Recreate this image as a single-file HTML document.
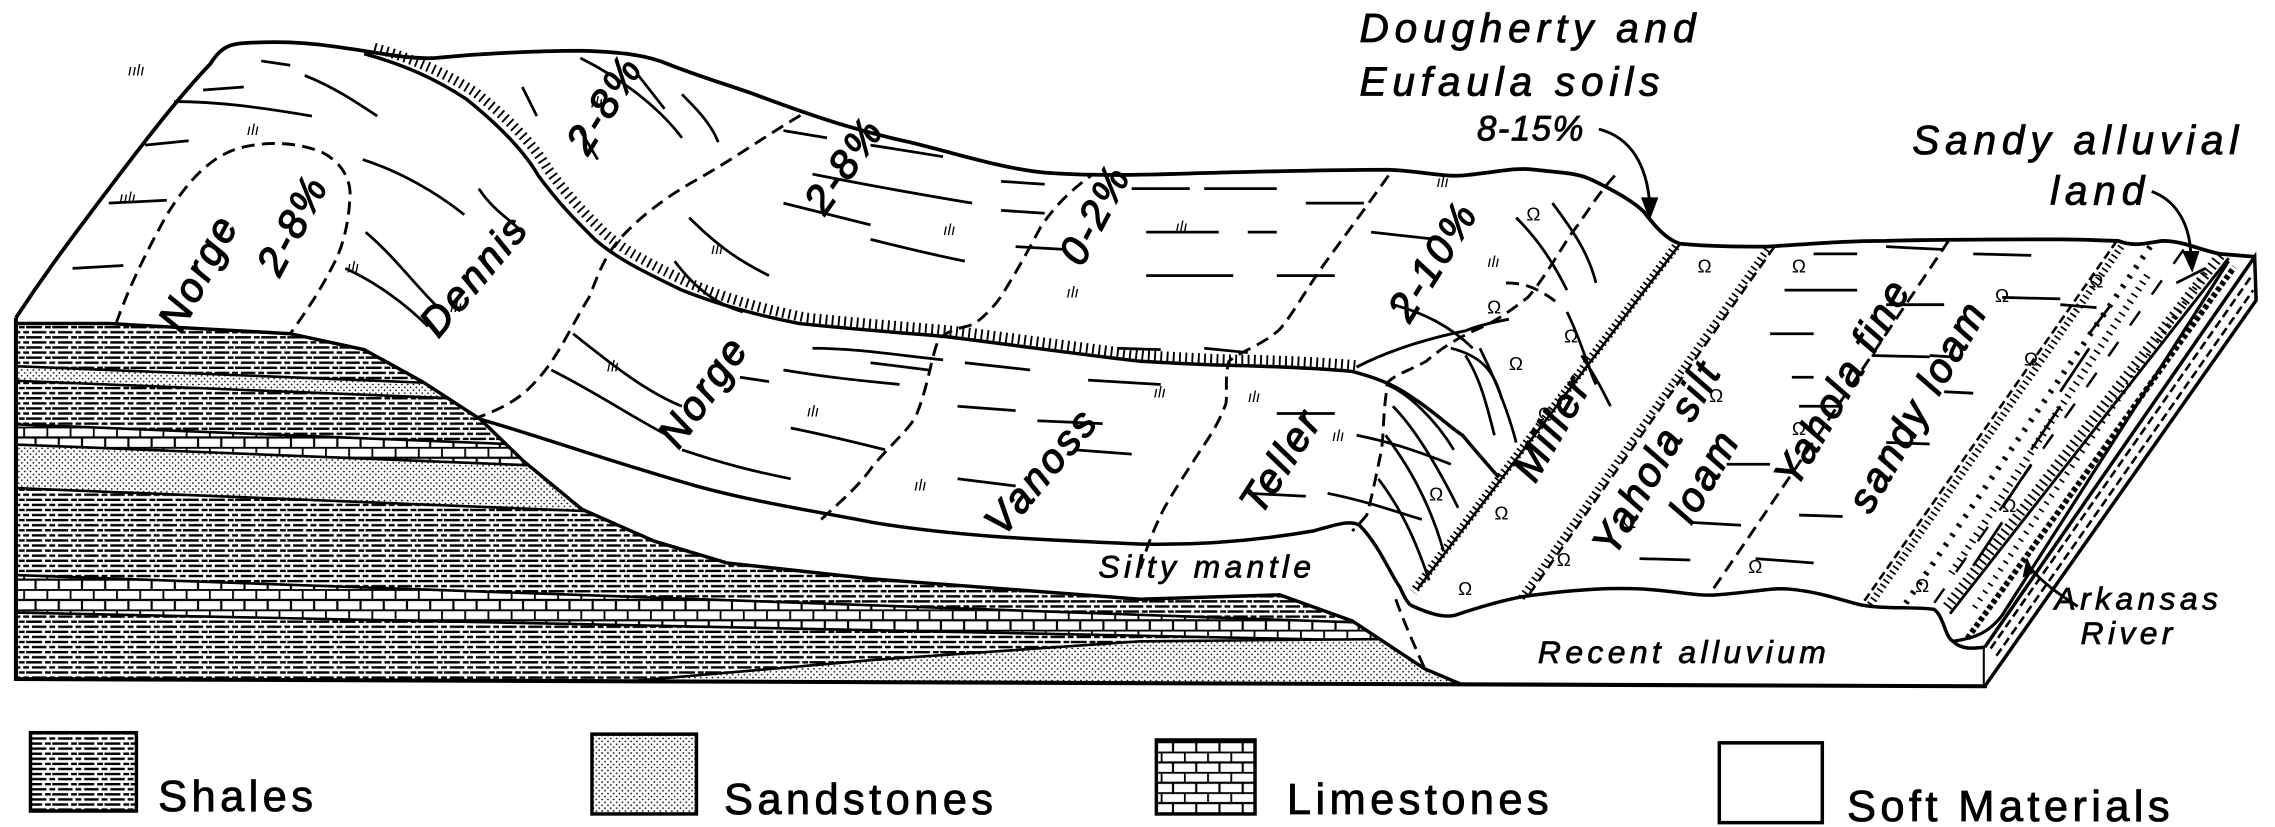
<!DOCTYPE html>
<html><head><meta charset="utf-8"><style>
html,body{margin:0;padding:0;background:#fff;}
svg{display:block}
text{font-family:"Liberation Sans",sans-serif;fill:#000;}
.it{font-style:italic;}
</style></head><body>
<svg width="2275" height="827" viewBox="0 0 1568 570" xmlns="http://www.w3.org/2000/svg">
<defs>
<pattern id="sh" patternUnits="userSpaceOnUse" width="18" height="7">
<path d="M0 1.5h11M13 1.5h4M4 5h10M16 5h2M0 5h2" stroke="#000" stroke-width="1.6"/>
</pattern>
<pattern id="ss" patternUnits="userSpaceOnUse" width="4" height="4">
<rect width="4" height="4" fill="#fff"/><circle cx="1" cy="1" r="0.6" fill="#000"/><circle cx="3" cy="3" r="0.6" fill="#000"/>
</pattern>
<pattern id="ls" patternUnits="userSpaceOnUse" width="16" height="14">
<rect width="16" height="14" fill="#fff"/>
<path d="M0 0.5H16M0 7.5H16M0.5 0V7M8.5 7V14" stroke="#000" stroke-width="1.5" fill="none"/>
</pattern>
<clipPath id="rock"><path d="M11,223 L75,223 L200,230 L251,241 L291,263 L331,289 L361,318 L401,351 L451,373 L501,388 L601,399 L786,413 L882,410 L932,428 L982,461 L1008,472 L11,468 Z"/></clipPath>
</defs>

<!-- ROCK -->
<g clip-path="url(#rock)">
<rect x="0" y="200" width="1020" height="280" fill="url(#sh)"/>
<polygon points="0,252 1020,293 1020,303 0,262" fill="url(#ss)"/>
<polygon points="0,292 1020,333 1020,347 0,306" fill="url(#ls)"/>
<polygon points="0,306 1020,347 1020,377 0,336" fill="url(#ss)"/>
<polygon points="0,396 1020,432 1020,443 0,422" fill="url(#ls)"/>
<path d="M0,252 L1020,293 M0,262 L1020,303 M0,292 L1020,333 M0,306 L1020,347 M0,336 L1020,377 M0,396 L1020,432 M0,422 L1020,443" stroke="#000" stroke-width="1.8" fill="none"/>
<polygon points="440,469 600,455 786,442 1010,440 1010,475 440,472" fill="url(#ss)"/>
<path d="M440,469 L600,455 L786,442 L1010,440" stroke="#000" stroke-width="1.8" fill="none"/>
</g>
<path d="M11,223 L75,223 L200,230 L251,241 L291,263 L331,289 L361,318 L401,351 L451,373 L501,388 L601,399 L786,413 L882,410 L932,428 L982,461 L1008,472" stroke="#000" stroke-width="2.4" fill="none"/>

<!-- BLOCK OUTLINE -->
<path d="M11,219 L11,468 L1368,473 L1368,446" stroke="#000" stroke-width="2.8" fill="none"/>
<path d="M1368,473 L1555,207 L1554,177 L1368,446" stroke="#000" stroke-width="2.4" fill="#fff"/>
<path d="M1372,447 L1552,190 M1376,452 L1553,200" stroke="#000" stroke-width="1.8" fill="none" stroke-dasharray="6 3"/>
<path d="M972,417 C985,423 995,426 1003,424 C1015,420 1040,412 1058,410 C1090,406 1110,405 1133,406 C1160,408 1170,411 1183,410 C1210,408 1220,405 1233,406 C1255,408 1270,414 1283,417 C1300,420 1320,418 1333,420 C1340,425 1340,438 1346,442 C1352,448 1360,447 1368,446" stroke="#000" stroke-width="2.4" fill="none"/>
<path d="M1346,442 C1360,440 1370,437 1380,424 L1536,180" stroke="#000" stroke-width="2.2" fill="none"/>
<path d="M1356,440 L1540,184" stroke="#000" stroke-width="4" stroke-dasharray="3 2" fill="none"/>
<path d="M1344,423 L1536,178" stroke="#000" stroke-width="2" fill="none"/>
<path d="M1342,418 L1532,174" stroke="#000" stroke-width="7" stroke-dasharray="1.3 3" fill="none"/>

<!-- TERRAIN OUTLINE -->
<path d="M11,219 C30,190 45,170 60,150 C90,110 120,70 145,44 C150,36 155,31 165,30 C190,28 210,29 230,32 C260,36 280,41 300,40 C330,37 370,35 401,35 C430,36 445,38 460,44 C480,52 500,58 520,65 C560,80 590,90 627,98 C660,106 690,116 720,119 C760,122 800,120 840,119 C880,118 920,117 957,117 C980,118 995,122 1008,121 C1030,119 1045,115 1058,117 C1075,119 1085,119 1095,123 C1110,130 1125,138 1133,146 C1140,155 1148,165 1158,168 C1180,170 1200,170 1218,170 C1250,168 1270,166 1300,166 C1340,165 1380,165 1420,165 C1440,165 1450,166 1460,166 C1470,170 1478,168 1490,166 C1505,166 1515,172 1530,175 L1554,177" stroke="#000" stroke-width="2.6" fill="none"/>

<!-- HACHURED ESCARPMENT -->
<g fill="none" stroke="#000">
<path d="M251,37 C280,45 301,55 321,68 C341,84 360,102 371,121 C385,140 395,150 410,165 C425,178 441,186 470,200 C490,208 515,216 551,223 C600,228 630,230 652,232 C700,238 750,245 786,249 C820,251 840,252 857,252 C890,253 910,254 932,256 C955,262 965,268 975,275 C990,285 1000,295 1008,300 C1018,312 1025,320 1033,329" stroke-width="2.4"/>
<path d="M258,33 C287,41 308,51 328,64 C348,80 367,98 378,117 C392,136 402,146 417,161 C432,174 448,182 477,196 C497,204 520,212 556,219 C605,224 635,226 657,228 C705,234 755,241 790,245 C825,247 845,248 862,248 C895,249 915,250 937,252" stroke-width="7" stroke-dasharray="1.3 3"/>
<path d="M935,253 C960,240 990,232 1010,228 C1020,224 1030,222 1040,220" stroke-width="2"/>
</g>

<!-- SILTY MANTLE top line -->
<path d="M331,289 C370,300 420,318 480,335 C520,346 560,352 601,360 C660,370 720,372 786,375 C830,376 870,372 905,366 C920,362 930,358 937,362 C950,375 958,395 965,405 C968,412 970,415 972,417" stroke="#000" stroke-width="2.4" fill="none"/>

<!-- DASHED BOUNDARIES -->
<g fill="none" stroke="#000" stroke-width="2" stroke-dasharray="9 5">
<path d="M80,223 C88,200 100,175 115,148 C130,124 145,108 165,102 C185,97 205,98 222,105 C236,112 243,125 241,139 C240,155 236,170 231,180 C222,198 213,212 200,230"/>
<path d="M326,289 C345,282 358,276 370,262 C385,246 395,222 406,205 C412,190 416,178 426,166 C440,150 460,135 480,124 C505,110 530,92 556,77"/>
<path d="M566,358 C580,345 592,335 601,322 C615,305 628,295 632,285 C640,265 642,245 647,234 C655,226 665,226 672,223 C682,215 688,208 692,201 C702,185 710,170 717,157 C728,140 740,130 752,121"/>
<path d="M957,121 C940,145 925,165 912,183 C900,200 890,218 882,227 C870,238 855,242 847,249 C844,260 846,270 845,278 C840,292 833,302 827,311 C818,325 808,340 802,351 C795,365 790,378 786,392"/>
<path d="M1113,121 C1100,135 1092,150 1083,161 C1072,178 1062,195 1053,205 C1040,215 1030,222 1018,227 C1000,235 990,243 983,249 C970,256 962,258 957,263 C953,280 954,298 952,311 C948,330 945,345 942,355 C938,360 935,363 932,366"/>
<path d="M962,413 C968,430 975,445 982,461"/>
<path d="M1343,166 C1300,230 1240,320 1178,410"/>
<path d="M1038,195 C1050,195 1060,198 1075,210"/>
</g>
<g fill="none" stroke="#000">
<path d="M1158,168 L977,406" stroke-width="1.8"/>
<path d="M1155,170 L974,408" stroke-width="6" stroke-dasharray="1.2 2.4"/>
<path d="M1223,170 L1053,411" stroke-width="1.8" stroke-dasharray="7 4"/>
<path d="M1218,172 L1048,413" stroke-width="5" stroke-dasharray="1.2 2.6"/>
<path d="M1459,166 L1283,417" stroke-width="1.8" stroke-dasharray="6 3"/>
<path d="M1462,170 L1288,418" stroke-width="5" stroke-dasharray="1.2 2.6"/>
<path d="M1482,170 L1312,418" stroke-width="4" stroke-dasharray="2 6"/>
<path d="M1505,172 L1330,420" stroke-width="1.7" stroke-dasharray="12 14"/>
</g>

<!-- CONTOUR LINES -->
<g fill="none" stroke="#000" stroke-width="1.9">
<path d="M180,42 L200,45 M210,52 C230,60 245,70 260,80 M140,62 L168,60 M100,100 L130,97 M120,70 C150,70 180,74 215,80 M75,140 L115,138 M50,185 L85,183"/>
<path d="M250,110 C275,118 300,132 320,148 M252,160 C270,175 285,195 300,210 M238,185 C260,195 280,210 295,225"/>
<path d="M360,60 L370,80 M400,90 L412,110 M440,52 L458,75 M400,40 C430,55 455,75 470,95 M470,65 C480,75 490,85 495,98 M330,130 C340,145 350,150 360,160"/>
<path d="M540,90 L570,95 M600,100 L650,108 M560,120 C600,128 640,135 670,140 M600,165 C620,170 640,175 665,180 M475,150 C495,170 510,180 530,190 M465,180 C480,200 495,210 512,215 M540,140 C560,145 580,150 600,155 M690,145 L720,147 M700,170 L735,172 M690,125 L720,127"/>
<path d="M395,230 C420,250 445,270 470,280 M380,255 C410,270 440,290 460,300 M470,310 C500,320 520,325 545,330 M545,295 C570,300 590,305 610,310 M540,255 C570,260 590,262 620,265 M510,260 L530,263 M600,250 L640,255"/>
<path d="M560,240 C590,240 620,245 650,248 M665,250 L710,255 M660,280 L700,283 M715,290 L760,292 M660,330 L700,335 M740,310 L780,313 M750,262 L800,265 M770,240 L800,241 M830,240 L860,243"/>
<path d="M780,130 L820,130 M830,130 L880,130 M790,160 L840,160 M860,160 L880,160 M790,190 L850,190 M880,190 L920,190 M900,140 L940,140 M945,160 L990,165 M960,210 C980,215 1000,225 1015,240"/>
<path d="M880,285 L920,285 M860,340 L900,342 M935,300 C960,305 980,312 1000,320 M915,340 C940,345 960,352 980,358"/>
<path d="M1045,150 C1060,165 1070,180 1080,200 M1070,140 C1085,160 1095,175 1100,195 M1000,240 C1020,245 1030,255 1035,275 M1080,215 C1090,235 1095,255 1100,265 M1090,245 C1100,260 1105,270 1110,280"/>
<path d="M955,265 C970,270 990,290 1002,310 M960,280 C975,295 990,320 1005,350 M955,300 C970,320 985,345 995,380 M950,330 C965,350 975,370 985,400 M1010,245 C1020,260 1025,280 1030,300 M1020,240 C1030,260 1040,285 1045,305"/>
<path d="M1250,175 L1280,175 M1300,170 L1340,172 M1230,200 L1280,200 M1300,210 L1340,210 M1220,230 L1250,230 M1290,245 L1330,246 M1240,280 L1270,280 M1190,320 L1220,320 M1165,360 L1200,362 M1130,385 L1165,386 M1240,355 L1270,356 M1210,385 L1250,388 M1235,260 L1250,260"/>
<path d="M1360,175 L1400,176 M1380,205 L1420,206 M1420,210 L1445,212 M1330,245 L1345,246 M1340,270 L1360,271 M1300,305 L1330,306"/>
<path d="M1420,270 L1440,240 M1400,310 L1420,280 M1380,350 L1400,320 M1360,390 L1380,360 M1440,230 L1455,210 M1500,195 L1520,185"/>
</g>
<path d="M1480,190 L1345,395" stroke="#000" stroke-width="5" stroke-dasharray="1.2 4" fill="none"/>
<path d="M1520,188 L1360,420" stroke="#000" stroke-width="4" stroke-dasharray="1.2 5" fill="none"/>

<g font-size="11" class="it">
<text x="88" y="52">ıılı</text><text x="170" y="93">ılı</text><text x="82" y="140">ıılı</text>
<text x="239" y="188">ılı</text><text x="310" y="215">ılı</text><text x="407" y="74">ılı</text>
<text x="490" y="175">ılı</text><text x="650" y="162">ılı</text><text x="735" y="205">ılı</text>
<text x="418" y="256">ılı</text><text x="556" y="287">ılı</text><text x="630" y="338">ılı</text>
<text x="810" y="160">ılı</text><text x="990" y="129">ılı</text><text x="1025" y="184">ılı</text>
<text x="795" y="274">ılı</text><text x="860" y="277">ılı</text><text x="918" y="304">ılı</text>
</g>
<g font-size="13">
<text x="1052" y="152">Ω</text><text x="1170" y="188">Ω</text><text x="1235" y="188">Ω</text>
<text x="1025" y="216">Ω</text><text x="1078" y="236">Ω</text><text x="1040" y="255">Ω</text>
<text x="1060" y="290">Ω</text><text x="985" y="345">Ω</text><text x="1030" y="358">Ω</text>
<text x="1005" y="410">Ω</text><text x="1073" y="390">Ω</text><text x="1178" y="277">Ω</text>
<text x="1205" y="395">Ω</text><text x="1235" y="300">Ω</text><text x="1375" y="208">Ω</text>
<text x="1440" y="198">Ω</text><text x="1395" y="252">Ω</text><text x="1380" y="353">Ω</text>
<text x="1320" y="408">Ω</text><text x="1118" y="364">Ω</text>
</g>

<!-- ARROWS -->
<g fill="none" stroke="#000" stroke-width="2">
<path d="M1102,89 C1125,95 1135,115 1137,140"/>
<path d="M1483,132 C1500,138 1510,155 1510,178"/>
<path d="M1432,418 C1420,410 1408,402 1400,392"/>
</g>
<polygon points="1131,136 1143,136 1137,152" fill="#000"/>
<polygon points="1504,173 1516,173 1511,188" fill="#000"/>
<polygon points="1394,398 1402,395 1397,384" fill="#000"/>

<!-- LABELS -->
<g class="it" font-size="28" letter-spacing="2" stroke="#000" stroke-width="0.9">
<text transform="translate(137,188) rotate(-62)" text-anchor="middle" y="9">Norge</text>
<text transform="translate(202,155) rotate(-62)" text-anchor="middle" y="9">2-8%</text>
<text transform="translate(327,190) rotate(-50)" text-anchor="middle" y="9">Dennis</text>
<text transform="translate(417,72) rotate(-58)" text-anchor="middle" y="9">2-8%</text>
<text transform="translate(582,114) rotate(-55)" text-anchor="middle" y="9">2-8%</text>
<text transform="translate(755,148) rotate(-62)" text-anchor="middle" y="9">0-2%</text>
<text transform="translate(988,180) rotate(-58)" text-anchor="middle" y="9">2-10%</text>
<text transform="translate(485,270) rotate(-55)" text-anchor="middle" y="9">Norge</text>
<text transform="translate(718,325) rotate(-50)" text-anchor="middle" y="9">Vanoss</text>
<text transform="translate(883,318) rotate(-57)" text-anchor="middle" y="9">Teller</text>
<text transform="translate(1070,295) rotate(-60)" text-anchor="middle" y="9">Miller</text>
<text transform="translate(1150,320) rotate(-60)" text-anchor="middle" y="0">Yahola silt</text>
<text transform="translate(1175,328) rotate(-60)" text-anchor="middle" y="9">loam</text>
<text transform="translate(1278,268) rotate(-60)" text-anchor="middle" y="0">Yahola fine</text>
<text transform="translate(1322,280) rotate(-60)" text-anchor="middle" y="9">sandy loam</text>
</g>
<g class="it" font-size="28" letter-spacing="4" stroke="#000" stroke-width="0.6">
<text x="937" y="29">Dougherty  and</text>
<text x="937" y="66">Eufaula  soils</text>
<text x="1018" y="97" font-size="24" letter-spacing="1">8-15%</text>
<text x="1318" y="106">Sandy  alluvial</text>
<text x="1413" y="141">land</text>
</g>
<g class="it" font-size="22" letter-spacing="3" stroke="#000" stroke-width="0.5">
<text x="757" y="398">Silty mantle</text>
<text x="1060" y="457">Recent  alluvium</text>
<text x="1416" y="420">Arkansas</text>
<text x="1434" y="444">River</text>
</g>

<!-- LEGEND -->
<rect x="21" y="505" width="73" height="54" fill="url(#sh)" stroke="#000" stroke-width="2.4"/>
<rect x="408" y="506" width="72" height="55" fill="url(#ss)" stroke="#000" stroke-width="2.4"/>
<rect x="797" y="510" width="68" height="51" fill="url(#ls)" stroke="#000" stroke-width="2.4"/>
<rect x="1185" y="512" width="71" height="55" fill="#fff" stroke="#000" stroke-width="2.4"/>
<g font-size="30" letter-spacing="3" stroke="#000" stroke-width="0.6">
<text x="109" y="559">Shales</text>
<text x="499" y="561">Sandstones</text>
<text x="887" y="561">Limestones</text>
<text x="1273" y="566">Soft Materials</text>
</g>
</svg>
</body></html>
